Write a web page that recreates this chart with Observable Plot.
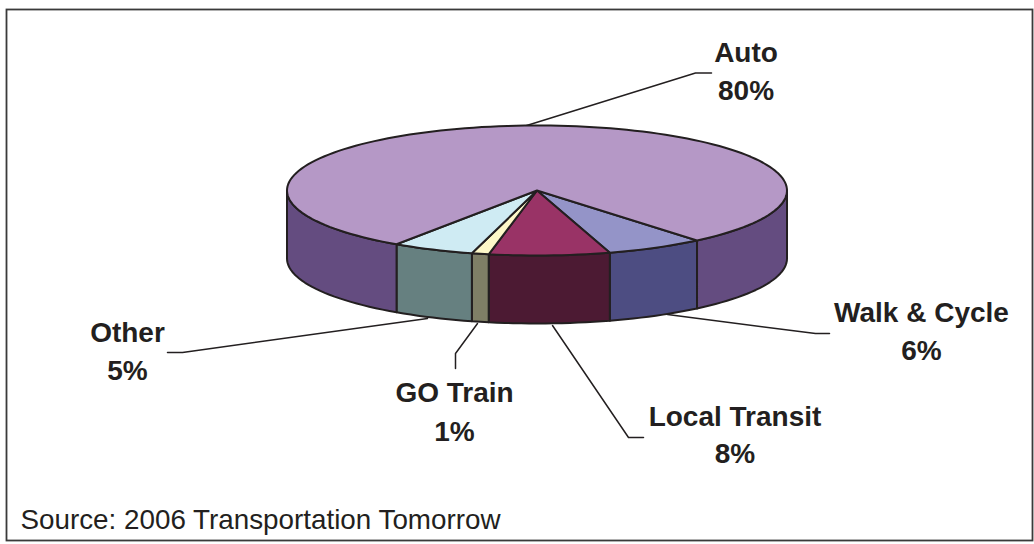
<!DOCTYPE html>
<html><head><meta charset="utf-8">
<script src="https://cdn.jsdelivr.net/npm/d3@7"></script>
<script src="https://cdn.jsdelivr.net/npm/@observablehq/plot@0.6"></script>
<style>html,body{margin:0;padding:0;background:#fff}svg{display:block}</style>
</head><body><div id="chart"></div>
<script>
// Data: labels carry the printed percentages, shares the slice sizes.
const categories = ["Walk & Cycle", "Local Transit", "GO Train", "Other", "Auto"];
const labels = ["6%", "8%", "1%", "5%", "80%"];
const shares = [6.35, 7.8, 1.1, 5.3, 79.45];
const topColors = ["#9494c8", "#993366", "#fdf8c8", "#cfebf3", "#b598c6"];
const sideColors = ["#4d4d82", "#4c1a33", "#7f7f66", "#668080", "#644c80"];

// Layout, in pixels of the page
const W = 1034, H = 544;
const cx = 536.5, cy = 190, rx = 250, ry = 65, depth = 68;
const startAngle = 50.2;
const ink = "#231f20";

// Slices from the shares (angle clockwise on screen from the right-hand side of the pie)
let acc = startAngle;
const slices = categories.map((name, i) => {
  const a0 = acc; acc += shares[i] * 3.6;
  return {name, i, a0, a1: acc};
});
const pt = (a, dy = 0) => ({x: cx + rx * Math.cos(a * Math.PI / 180), y: cy + ry * Math.sin(a * Math.PI / 180) + dy});
const arc = (a0, a1, dy = 0) => {
  const n = Math.max(2, Math.ceil((a1 - a0) / 2));
  return d3.range(n + 1).map(k => pt(a0 + (a1 - a0) * k / n, dy));
};
const topFaces = [], sideFaces = [];
for (const s of slices) {
  topFaces.push(...[{x: cx, y: cy}, ...arc(s.a0, s.a1), {x: cx, y: cy}].map(p => ({...p, z: s.name, c: topColors[s.i]})));
  // the visible wall is the part of the rim on the near half of the pie
  const ranges = [[s.a0, Math.min(s.a1, 180)], [Math.max(s.a0, 360), Math.min(s.a1, 360 + startAngle)]].filter(r => r[1] > r[0]);
  ranges.forEach((r, j) => {
    const poly = [...arc(r[0], r[1]), ...arc(r[0], r[1], depth).reverse()];
    poly.push(poly[0]);
    sideFaces.push(...poly.map(p => ({...p, z: s.name + j, c: sideColors[s.i]})));
  });
}

// Leader lines and label anchors, page pixels
const leaders = [
  [[523,126],[695,72.5],[711,72.5]],
  [[667,314],[815,333],[829,333]],
  [[552,325],[628,437],[643,437]],
  [[477,323],[455,353],[455,368]],
  [[427,318],[182,352],[167,352]]
].flatMap((l, i) => l.map(([x, y]) => ({x, y, z: i})));
const order = ["Auto","Walk & Cycle","Local Transit","GO Train","Other"];
const nameAt = [[745.5,53],[921,313],[734.5,417],[454,393],[127,333]];
const pctAt =  [[745.5,91],[921,351],[734.5,454],[454,432],[127,371]];
const textRows = order.map((n, i) => {
  const k = categories.indexOf(n);
  return [{x: nameAt[i][0], y: nameAt[i][1], t: n}, {x: pctAt[i][0], y: pctAt[i][1], t: labels[k]}];
}).flat();

const chart = Plot.plot({
  width: W, height: H,
  marginLeft: 6, marginRight: 2, marginTop: 9, marginBottom: 4,
  x: {domain: [6, 1032], axis: null},
  y: {domain: [9, 540], reverse: true, axis: null},
  style: {background: "#fff"},
  marks: [
    Plot.frame({stroke: "#3a3a3a", strokeWidth: 1.8}),
    Plot.line(leaders, {x: "x", y: "y", z: "z", stroke: ink, strokeWidth: 1.5, curve: "linear"}),
    Plot.line(sideFaces, {x: "x", y: "y", z: "z", fill: d => d.c, stroke: ink, strokeWidth: 2, curve: "linear"}),
    Plot.line(topFaces, {x: "x", y: "y", z: "z", fill: d => d.c, stroke: ink, strokeWidth: 2, curve: "linear"}),
    Plot.text(textRows, {x: "x", y: "y", text: "t", fontFamily: "Liberation Sans", fontWeight: "bold", fontSize: 28, fill: ink}),
    Plot.text([{x: 20, y: 520, t: "Source: 2006 Transportation Tomorrow"}], {x: "x", y: "y", text: "t", textAnchor: "start", fontFamily: "Liberation Sans", fontSize: 27.8, fill: ink})
  ]
});
document.getElementById("chart").append(chart);
</script></body></html>
